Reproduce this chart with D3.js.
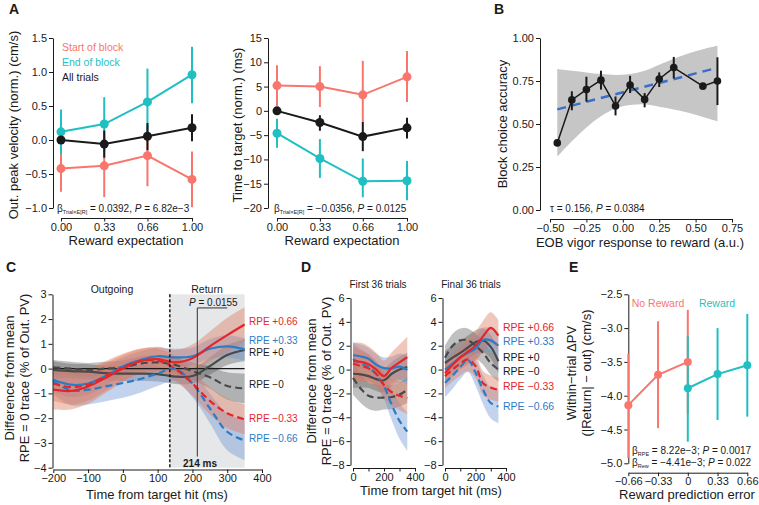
<!DOCTYPE html>
<html>
<head>
<meta charset="utf-8">
<script src="https://cdn.jsdelivr.net/npm/d3@7"></script>
<style>
  body { margin: 0; background: #fff; }
  svg { font-family: "Liberation Sans", Arial, Helvetica, sans-serif; }
</style>
</head>
<body>
<script>
// ---------- panel A ----------
const expectation = [0, 0.33, 0.66, 1];

const velStart = [-0.42, -0.38, -0.23, -0.58];
const velStartLo = [-0.76, -0.84, -0.68, -0.99];
const velStartHi = [-0.08, 0.08, 0.22, -0.17];
const velEnd = [0.12, 0.235, 0.56, 0.96];
const velEndLo = [-0.21, -0.16, 0.07, 0.54];
const velEndHi = [0.45, 0.63, 1.05, 1.37];
const velAll = [0.0, -0.06, 0.055, 0.18];
const velAllLo = [-0.04, -0.26, -0.15, -0.02];
const velAllHi = [0.04, 0.14, 0.25, 0.38];

const ttStart = [5.2, 5.0, 3.3, 7.0];
const ttStartLo = [1.0, 0.8, -2.4, 1.8];
const ttStartHi = [9.4, 9.2, 10.3, 12.3];
const ttAll = [0, -2.4, -5.3, -3.5];
const ttAllLo = [-0.5, -4.1, -8.3, -5.7];
const ttAllHi = [0.5, -0.9, -2.3, -1.4];
const ttEnd = [-4.6, -9.8, -14.5, -14.4];
const ttEndLo = [-7.6, -13.8, -17.8, -18.4];
const ttEndHi = [-1.6, -5.8, -9.8, -10.3];

// ---------- panel B ----------
const eobX = [-0.45, -0.35, -0.25, -0.15, -0.05, 0.05, 0.15, 0.25, 0.35, 0.55, 0.65];
const accMean = [0.39, 0.64, 0.70, 0.755, 0.605, 0.727, 0.643, 0.762, 0.828, 0.72, 0.75];
const accLo = [0.39, 0.58, 0.63, 0.70, 0.55, 0.68, 0.597, 0.715, 0.765, 0.71, 0.61];
const accHi = [0.39, 0.69, 0.775, 0.81, 0.66, 0.78, 0.68, 0.80, 0.89, 0.73, 0.888];
const fitX = [-0.45, 0.65];
const fitY = [0.585, 0.827];
const ciX = [-0.45, -0.35, -0.25, -0.15, -0.05, 0.05, 0.15, 0.25, 0.35, 0.45, 0.55, 0.65];
const ciLo = [0.31, 0.40, 0.48, 0.545, 0.59, 0.61, 0.615, 0.60, 0.585, 0.565, 0.54, 0.515];
const ciHi = [0.82, 0.81, 0.80, 0.79, 0.785, 0.79, 0.81, 0.845, 0.88, 0.91, 0.935, 0.955];

// ---------- panel C ----------
const cTime = [-200, -150, -100, -50, 0, 50, 100, 150, 200, 250, 300, 350];
const cP66 = [-0.85, -0.9, -0.72, -0.38, 0.0, 0.3, 0.38, 0.25, 0.42, 0.9, 1.35, 1.78];
const cP66Err = [0.8, 0.75, 0.7, 0.6, 0.55, 0.5, 0.5, 0.5, 0.55, 0.6, 0.7, 0.7];
const cP33 = [-0.45, -0.65, -0.6, -0.3, 0.1, 0.35, 0.5, 0.45, 0.5, 0.8, 0.9, 0.78];
const cP33Err = [0.5, 0.5, 0.45, 0.4, 0.35, 0.35, 0.35, 0.35, 0.35, 0.4, 0.45, 0.45];
const cP0 = [-0.05, -0.1, -0.12, -0.18, -0.2, -0.2, -0.22, -0.32, -0.3, 0.1, 0.55, 0.75];
const cP0Err = [0.35, 0.3, 0.3, 0.3, 0.3, 0.3, 0.3, 0.3, 0.3, 0.35, 0.4, 0.45];
const cM0 = [0.05, 0.0, -0.05, 0.0, 0.05, 0.2, 0.25, 0.15, -0.1, -0.35, -0.7, -0.8];
const cM0Err = [0.3, 0.28, 0.28, 0.28, 0.28, 0.3, 0.3, 0.3, 0.35, 0.45, 0.55, 0.6];
const cM33 = [-0.6, -0.75, -0.65, -0.3, 0.05, 0.3, 0.32, 0.0, -0.6, -1.3, -1.8, -2.05];
const cM33Err = [0.7, 0.7, 0.65, 0.6, 0.55, 0.5, 0.5, 0.5, 0.5, 0.55, 0.6, 0.6];
const cM66 = [-0.5, -0.88, -0.85, -0.72, -0.58, -0.42, -0.2, 0.0, -0.6, -1.6, -2.55, -2.9];
const cM66Err = [0.55, 0.6, 0.6, 0.6, 0.6, 0.55, 0.5, 0.5, 0.55, 0.6, 0.75, 0.8];

// ---------- panel D ----------
const dTime = [0, 50, 100, 150, 200, 250, 300, 350];
const d1P66 = [0.7, 0.65, 0.45, 0.0, -0.55, 0.15, 0.6, 1.05];
const d1P66Err = [1.5, 1.6, 1.5, 1.4, 1.3, 1.3, 1.5, 1.7];
const d1P33 = [1.2, 1.1, 0.9, 0.4, 0.12, 0.1, 0.25, -0.05];
const d1P33Err = [1.1, 1.0, 0.9, 0.9, 0.9, 1.0, 1.1, 1.2];
const d1P0 = [-0.35, -0.4, -0.55, -0.8, -0.9, -0.35, 0.0, 0.2];
const d1P0Err = [1.2, 1.1, 1.0, 1.0, 1.0, 1.0, 1.1, 1.2];
const d1M0 = [-0.7, -1.6, -2.2, -2.35, -2.35, -2.3, -2.1, -1.7];
const d1M0Err = [1.4, 1.2, 1.1, 1.1, 1.0, 1.0, 1.0, 1.1];
const d1M33 = [0.5, 0.3, 0.1, -0.35, -1.3, -1.9, -2.2, -2.4];
const d1M33Err = [1.4, 1.3, 1.2, 1.1, 1.1, 1.1, 1.2, 1.3];
const d1M66 = [0.9, 0.5, 0.2, -0.4, -1.4, -2.95, -4.3, -5.2];
const d1M66Err = [1.3, 1.2, 1.1, 1.0, 1.1, 1.3, 1.5, 1.6];

const d2P66 = [-0.3, 0.4, 1.0, 1.5, 2.0, 2.8, 3.5, 2.85];
const d2P66Err = [1.0, 1.0, 1.0, 1.1, 1.2, 1.3, 1.3, 1.3];
const d2P33 = [0.0, 0.5, 1.05, 1.4, 1.75, 2.5, 2.45, 2.0];
const d2P33Err = [0.9, 0.9, 0.9, 0.9, 1.0, 1.0, 1.0, 1.0];
const d2P0 = [0.55, 1.0, 1.4, 1.85, 2.3, 2.45, 1.9, 0.7];
const d2P0Err = [1.0, 1.0, 1.0, 1.0, 1.0, 1.0, 1.0, 1.0];
const d2M0 = [1.0, 2.0, 2.45, 2.45, 2.0, 1.4, 0.55, 0.0];
const d2M0Err = [1.0, 1.0, 1.0, 1.0, 1.0, 1.0, 1.0, 1.0];
const d2M33 = [-0.55, 0.0, 0.5, 0.85, 0.3, -1.15, -1.5, -1.7];
const d2M33Err = [1.0, 1.0, 1.0, 1.0, 1.0, 1.0, 1.0, 1.0];
const d2M66 = [-1.1, -0.5, 0.2, 0.8, -0.25, -1.7, -2.8, -3.1];
const d2M66Err = [1.2, 1.1, 1.0, 1.0, 1.1, 1.2, 1.3, 1.4];

const rpeLabels = ["RPE +0.66", "RPE +0.33", "RPE +0", "RPE \u22120", "RPE \u22120.33", "RPE \u22120.66"];

// ---------- panel E ----------
const eTicks = [-0.66, -0.33, 0, 0.33, 0.66];
const eTickLabels = ["\u22120.66", "\u22120.33", "0", "0.33", "0.66"];
const rpeNoRew = [-0.66, -0.33, 0];
const noRewMean = [-4.14, -3.69, -3.5];
const noRewLo = [-4.92, -4.48, -4.27];
const noRewHi = [-3.38, -2.9, -2.73];
const rpeRew = [0, 0.33, 0.66];
const rewMean = [-3.89, -3.68, -3.55];
const rewLo = [-4.68, -4.36, -4.31];
const rewHi = [-3.12, -3.0, -2.79];

// ---------- drawing ----------
const SALMON = "#f8766d", TEAL = "#1fbfc2", INK = "#1a1a1a";
const RED = "#e3262b", BLUE = "#2b7cc6", GREY = "#4a4a4a";
const RED_BAND = "#dd7a5e", BLUE_BAND = "#6f95d4", GREY_BAND = "#5a5a5a";

const svg = d3.select("body").append("svg").attr("width", 759).attr("height", 505);

function styleAxis(g) {
  g.attr("font-family", null).attr("font-size", 11);
  g.select(".domain").attr("stroke", INK);
  g.selectAll(".tick line").attr("stroke", INK);
  g.selectAll(".tick text").attr("fill", INK);
}
function xAxis(scale, y0, ticks, fmt) {
  const g = svg.append("g").attr("transform", `translate(0,${y0})`)
    .call(d3.axisBottom(scale).tickValues(ticks).tickFormat(fmt).tickSize(3.5).tickPadding(1.5).tickSizeOuter(0));
  styleAxis(g);
}
function yAxis(scale, x0, ticks, fmt) {
  const g = svg.append("g").attr("transform", `translate(${x0},0)`)
    .call(d3.axisLeft(scale).tickValues(ticks).tickFormat(fmt).tickSize(4).tickPadding(2).tickSizeOuter(0));
  styleAxis(g);
}
function text(x, y, s, size, o = {}) {
  const t = svg.append("text").attr("x", x).attr("y", y).attr("font-size", size)
    .attr("fill", o.fill || INK).attr("text-anchor", o.anchor || "start").text(s);
  if (o.bold) t.attr("font-weight", "bold");
  if (o.rot) t.attr("transform", `rotate(-90,${x},${y})`).attr("dominant-baseline", "central");
  if (o.mid) t.attr("dominant-baseline", "central");
  return t;
}
function rich(x, y, parts, size) {
  const t = svg.append("text").attr("x", x).attr("y", y).attr("font-size", size).attr("fill", INK);
  let prevSub = false;
  parts.forEach(([s, k]) => {
    const ts = t.append("tspan").text(s);
    if (k === "sub") ts.attr("font-size", size * 0.55).attr("dy", 2);
    else if (prevSub) ts.attr("dy", -2);
    if (k === "it") ts.attr("font-style", "italic");
    prevSub = k === "sub";
  });
}
function errSeries(x, y, xs, mean, lo, hi, color, r, part) {
  if (part === "bars") {
    svg.append("g").selectAll("line").data(xs).join("line")
      .attr("x1", d => x(d)).attr("x2", d => x(d))
      .attr("y1", (d, i) => y(lo[i])).attr("y2", (d, i) => y(hi[i]))
      .attr("stroke", color).attr("stroke-width", 2);
  } else {
    svg.append("path").datum(mean)
      .attr("d", d3.line().x((d, i) => x(xs[i])).y(d => y(d)))
      .attr("fill", "none").attr("stroke", color).attr("stroke-width", 2);
    svg.append("g").selectAll("circle").data(mean).join("circle")
      .attr("cx", (d, i) => x(xs[i])).attr("cy", d => y(d)).attr("r", r).attr("fill", color);
  }
}

// ----- A left -----
const xA1 = d3.scaleLinear().domain([0, 1]).range([61, 192]);
const yA1 = d3.scaleLinear().domain([-1, 1.5]).range([208, 38]);
xAxis(xA1, 218, expectation, d3.format(".2f"));
yAxis(yA1, 53, [-1, -0.5, 0, 0.5, 1, 1.5], d3.format(".1f"));
[[velStart, velStartLo, velStartHi, SALMON], [velEnd, velEndLo, velEndHi, TEAL], [velAll, velAllLo, velAllHi, INK]]
  .forEach(s => errSeries(xA1, yA1, expectation, s[0], s[1], s[2], s[3], 4.5, "bars"));
[[velStart, SALMON], [velEnd, TEAL], [velAll, INK]]
  .forEach(s => errSeries(xA1, yA1, expectation, s[0], null, null, s[1], 4.5, "pts"));
text(62, 50.5, "Start of block", 10.5, { fill: SALMON });
text(62, 65.5, "End of block", 10.5, { fill: TEAL });
text(62, 80.5, "All trials", 10.5);
rich(57, 211.5, [["\u03b2", ""], ["Trial\u00d7E[R]", "sub"], [" = 0.0392, ", ""], ["P", "it"], [" = 6.82e\u22123", ""]], 10);
text(13, 125, "Out. peak velocity (norm.) (cm/s)", 13, { rot: true, anchor: "middle" });
text(126, 245, "Reward expectation", 13, { anchor: "middle" });
text(9, 14, "A", 14, { bold: true });

// ----- A right -----
const xA2 = d3.scaleLinear().domain([0, 1]).range([277, 407]);
const yA2 = d3.scaleLinear().domain([-20, 15]).range([208, 38]);
xAxis(xA2, 218, expectation, d3.format(".2f"));
yAxis(yA2, 268, [-20, -15, -10, -5, 0, 5, 10, 15], d3.format("d"));
[[ttStart, ttStartLo, ttStartHi, SALMON], [ttEnd, ttEndLo, ttEndHi, TEAL], [ttAll, ttAllLo, ttAllHi, INK]]
  .forEach(s => errSeries(xA2, yA2, expectation, s[0], s[1], s[2], s[3], 4.5, "bars"));
[[ttStart, SALMON], [ttEnd, TEAL], [ttAll, INK]]
  .forEach(s => errSeries(xA2, yA2, expectation, s[0], null, null, s[1], 4.5, "pts"));
rich(274, 211.5, [["\u03b2", ""], ["Trial\u00d7E[R]", "sub"], [" = \u22120.0356, ", ""], ["P", "it"], [" = 0.0125", ""]], 10);
text(237, 125, "Time to target (norm.) (ms)", 13, { rot: true, anchor: "middle" });
text(342, 245, "Reward expectation", 13, { anchor: "middle" });

// ----- B -----
const xB = d3.scaleLinear().domain([-0.5, 0.75]).range([550, 732]);
const yB = d3.scaleLinear().domain([0, 1]).range([210, 38]);
xAxis(xB, 219, [-0.5, -0.25, 0, 0.25, 0.5, 0.75], d3.format(".2f"));
yAxis(yB, 540, [0, 0.25, 0.5, 0.75, 1], d3.format(".2f"));
svg.append("path").datum(ciX)
  .attr("d", d3.area().curve(d3.curveCatmullRom).x(d => xB(d)).y0((d, i) => yB(ciLo[i])).y1((d, i) => yB(ciHi[i])))
  .attr("fill", "#c6c6c6");
svg.append("path").datum(fitX)
  .attr("d", d3.line().x(d => xB(d)).y((d, i) => yB(fitY[i])))
  .attr("stroke", "#3a6fc9").attr("stroke-width", 2.5).attr("stroke-dasharray", "9,6").attr("fill", "none");
errSeries(xB, yB, eobX, accMean, accLo, accHi, INK, 3.8, "bars");
svg.append("path").datum(accMean)
  .attr("d", d3.line().x((d, i) => xB(eobX[i])).y(d => yB(d)))
  .attr("fill", "none").attr("stroke", INK).attr("stroke-width", 1.5);
svg.append("g").selectAll("circle").data(accMean).join("circle")
  .attr("cx", (d, i) => xB(eobX[i])).attr("cy", d => yB(d)).attr("r", 3.8).attr("fill", INK);
rich(550, 211.5, [["\u03c4 = 0.156, ", ""], ["P", "it"], [" = 0.0384", ""]], 10);
text(502, 124, "Block choice accuracy", 13, { rot: true, anchor: "middle" });
text(640, 246.5, "EOB vigor response to reward (a.u.)", 13, { anchor: "middle" });
text(494, 14, "B", 14, { bold: true });

// ----- traces helper (C, D) -----
function traces(x, y, ts, set) {
  set.forEach(s => {
    svg.append("path").datum(s.m)
      .attr("d", d3.area().curve(d3.curveCatmullRom)
        .x((d, i) => x(ts[i])).y0((d, i) => y(d - s.e[i])).y1((d, i) => y(d + s.e[i])))
      .attr("fill", s.band).attr("fill-opacity", s.band === GREY_BAND ? 0.38 : 0.42);
  });
}
function traceLines(x, y, ts, set) {
  set.forEach(s => {
    svg.append("path").datum(s.m)
      .attr("d", d3.line().curve(d3.curveCatmullRom).x((d, i) => x(ts[i])).y(d => y(d)))
      .attr("fill", "none").attr("stroke", s.c).attr("stroke-width", 2.2)
      .attr("stroke-dasharray", s.dash ? "7,4" : null);
  });
}
const labelColors = [RED, BLUE, INK, INK, RED, BLUE];

// ----- C -----
const xC = d3.scaleLinear().domain([-200, 400]).range([53.3, 262]);
const yC = d3.scaleLinear().domain([-4, 3]).range([467.7, 294.3]);
svg.append("rect").attr("x", xC(135)).attr("y", yC(3)).attr("width", xC(350) - xC(135))
  .attr("height", yC(-4) - yC(3)).attr("fill", "#e6e7e9");
const cSet = [
  { m: cP0, e: cP0Err, band: GREY_BAND, c: GREY },
  { m: cM0, e: cM0Err, band: GREY_BAND, c: GREY, dash: true },
  { m: cM66, e: cM66Err, band: BLUE_BAND, c: BLUE, dash: true },
  { m: cP33, e: cP33Err, band: BLUE_BAND, c: BLUE },
  { m: cM33, e: cM33Err, band: RED_BAND, c: RED, dash: true },
  { m: cP66, e: cP66Err, band: RED_BAND, c: RED }
];
traces(xC, yC, cTime, cSet);
svg.append("line").attr("x1", xC(-200)).attr("x2", xC(350)).attr("y1", yC(0)).attr("y2", yC(0))
  .attr("stroke", INK).attr("stroke-width", 1.2);
traceLines(xC, yC, cTime, cSet);
svg.append("line").attr("x1", xC(135)).attr("x2", xC(135)).attr("y1", yC(3)).attr("y2", yC(-4))
  .attr("stroke", INK).attr("stroke-width", 1.5).attr("stroke-dasharray", "3,2");
svg.append("path")
  .attr("d", `M${xC(300)},${yC(2.45)}H${xC(214)}V${yC(-3.55)}`)
  .attr("fill", "none").attr("stroke", "#333").attr("stroke-width", 1);
xAxis(xC, 469.5, [-200, -100, 0, 100, 200, 300, 400], d3.format("d"));
yAxis(yC, 52.5, [-4, -3, -2, -1, 0, 1, 2, 3], d3.format("d"));
rich(189, 305.5, [["P", "it"], [" = 0.0155", ""]], 10);
text(200, 466.5, "214 ms", 10, { anchor: "middle", bold: true });
text(112, 292.5, "Outgoing", 10.5, { anchor: "middle" });
text(207, 292.5, "Return", 10.5, { anchor: "middle" });
[321.7, 340.3, 352.3, 384.3, 418.3, 438.3].forEach((yy, i) =>
  text(249, yy, rpeLabels[i], 10, { fill: labelColors[i], mid: true }));
text(9, 378, "Difference from mean", 13, { rot: true, anchor: "middle" });
text(24, 378, "RPE = 0 trace (% of Out. PV)", 13, { rot: true, anchor: "middle" });
text(157, 499, "Time from target hit (ms)", 13, { anchor: "middle" });
text(6, 272, "C", 14, { bold: true });

// ----- D -----
const yD = d3.scaleLinear().domain([-8, 6]).range([465, 298]);
const xD1 = d3.scaleLinear().domain([0, 400]).range([353, 415]);
const xD2 = d3.scaleLinear().domain([0, 400]).range([445, 506]);
const d1Set = [
  { m: d1P0, e: d1P0Err, band: GREY_BAND, c: GREY },
  { m: d1M0, e: d1M0Err, band: GREY_BAND, c: GREY, dash: true },
  { m: d1M66, e: d1M66Err, band: BLUE_BAND, c: BLUE, dash: true },
  { m: d1P33, e: d1P33Err, band: BLUE_BAND, c: BLUE },
  { m: d1M33, e: d1M33Err, band: RED_BAND, c: RED, dash: true },
  { m: d1P66, e: d1P66Err, band: RED_BAND, c: RED }
];
const d2Set = [
  { m: d2P0, e: d2P0Err, band: GREY_BAND, c: GREY },
  { m: d2M0, e: d2M0Err, band: GREY_BAND, c: GREY, dash: true },
  { m: d2M66, e: d2M66Err, band: BLUE_BAND, c: BLUE, dash: true },
  { m: d2P33, e: d2P33Err, band: BLUE_BAND, c: BLUE },
  { m: d2M33, e: d2M33Err, band: RED_BAND, c: RED, dash: true },
  { m: d2P66, e: d2P66Err, band: RED_BAND, c: RED }
];
traces(xD1, yD, dTime, d1Set);
traceLines(xD1, yD, dTime, d1Set);
traces(xD2, yD, dTime, d2Set);
traceLines(xD2, yD, dTime, d2Set);
const dFmt = d => (d % 200 === 0 ? d : "");
xAxis(xD1, 468, [0, 100, 200, 300, 400], dFmt);
xAxis(xD2, 468, [0, 100, 200, 300, 400], dFmt);
yAxis(yD, 350.5, [-8, -6, -4, -2, 0, 2, 4, 6], d3.format("d"));
yAxis(yD, 442.5, [-8, -6, -4, -2, 0, 2, 4, 6], d3.format("d"));
text(378, 288, "First 36 trials", 10, { anchor: "middle" });
text(471, 288, "Final 36 trials", 10, { anchor: "middle" });
[327.3, 340.7, 356.7, 371, 386, 405.7].forEach((yy, i) =>
  text(503, yy, rpeLabels[i], 10.5, { fill: labelColors[i], mid: true }));
text(311, 381, "Difference from mean", 13, { rot: true, anchor: "middle" });
text(326, 381, "RPE = 0 trace (% of Out. PV)", 13, { rot: true, anchor: "middle" });
text(431, 495, "Time from target hit (ms)", 13, { anchor: "middle" });
text(301, 272, "D", 14, { bold: true });

// ----- E -----
const xE = d3.scaleLinear().domain([-0.66, 0.66]).range([628.3, 747.3]);
const yE = d3.scaleLinear().domain([-5, -2.5]).range([463.3, 294.3]);
xAxis(xE, 472.7, eTicks, (d, i) => eTickLabels[i]);
yAxis(yE, 628.3, [-5, -4.5, -4, -3.5, -3, -2.5], d3.format(".1f"));
errSeries(xE, yE, rpeNoRew, noRewMean, noRewLo, noRewHi, SALMON, 4, "bars");
errSeries(xE, yE, rpeRew, rewMean, rewLo, rewHi, TEAL, 4, "bars");
errSeries(xE, yE, rpeRew, rewMean, null, null, TEAL, 4, "pts");
errSeries(xE, yE, rpeNoRew, noRewMean, null, null, SALMON, 4, "pts");
text(658, 303.3, "No Reward", 10.5, { anchor: "middle", fill: SALMON, mid: true });
text(717, 303.3, "Reward", 10.5, { anchor: "middle", fill: TEAL, mid: true });
rich(632, 454, [["\u03b2", ""], ["RPE", "sub"], [" = 8.22e\u22123; ", ""], ["P", "it"], [" = 0.0017", ""]], 10);
rich(632, 466, [["\u03b2", ""], ["Rew", "sub"], [" = \u22124.41e\u22123; ", ""], ["P", "it"], [" = 0.022", ""]], 10);
text(571, 373, "Within\u2212trial \u0394PV", 13, { rot: true, anchor: "middle" });
text(586, 373, "(|Return| \u2212 out) (cm/s)", 13, { rot: true, anchor: "middle" });
text(687, 499, "Reward prediction error", 13, { anchor: "middle" });
text(569, 272, "E", 14, { bold: true });
</script>
</body>
</html>
